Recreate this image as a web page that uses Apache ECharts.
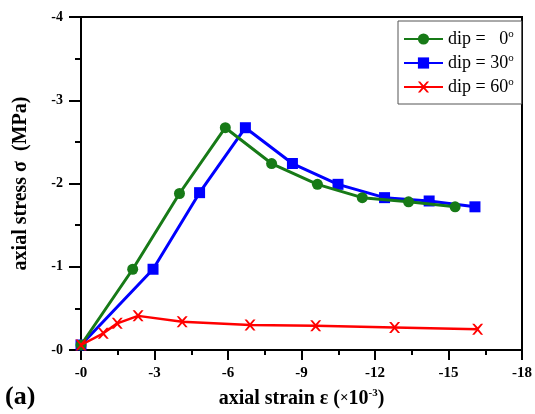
<!DOCTYPE html>
<html>
<head>
<meta charset="utf-8">
<script src="https://cdn.jsdelivr.net/npm/echarts@6/dist/echarts.min.js"></script>
<style>html,body{margin:0;padding:0;background:#fff}#c{width:535px;height:414px}</style>
</head>
<body>
<div id="c"></div>
<script>
// strain (x10^-3) and stress (MPa) values
var strain0  = [0, -2.11, -4.02, -5.89, -7.78, -9.65, -11.48, -13.37, -15.27];
var stress0  = [-0.06, -0.97, -1.88, -2.67, -2.24, -1.99, -1.83, -1.78, -1.72];
var strain30 = [0, -2.94, -4.84, -6.71, -8.63, -10.49, -12.39, -14.21, -16.08];
var stress30 = [-0.06, -0.97, -1.89, -2.67, -2.24, -1.99, -1.83, -1.79, -1.72];
var strain60 = [0, -0.91, -1.48, -2.33, -4.13, -6.9, -9.58, -12.8, -16.19];
var stress60 = [-0.06, -0.2, -0.32, -0.41, -0.34, -0.30, -0.29, -0.27, -0.25];
var seriesNames = ['dip =   0', 'dip = 30', 'dip = 60'];
var xTicks = [0, -3, -6, -9, -12, -15, -18];
var yTicks = [0, -1, -2, -3, -4];

function pairs(xs, ys){ return xs.map(function(x,i){return [x, ys[i]];}); }
var serif = '"Liberation Serif","Times New Roman",serif';
var chart = echarts.init(document.getElementById('c'));
function fmt(v){ return v === 0 ? '-0' : String(v); }
chart.setOption({
  animation: false,
  grid: {left: 81, top: 17, right: 11, bottom: 64, show: true, borderColor: '#000', borderWidth: 2, backgroundColor: 'transparent'},
  legend: {
    orient: 'vertical', left: 398, top: 21, width: 121,
    padding: [8, 8, 8, 5], itemGap: 5, itemWidth: 39, itemHeight: 14,
    borderColor: '#555', borderWidth: 1, backgroundColor: '#fff',
    textStyle: {fontFamily: serif, fontSize: 18, color: '#000',
      rich: {a: {fontFamily: serif, fontSize: 18, color: '#000'}, s: {fontFamily: serif, fontSize: 11, color: '#000', verticalAlign: 'top', padding: [0,0,9,0]}}},
    formatter: function(n){ return '{a|' + n + '}{s|o}'; },
    data: seriesNames
  },
  xAxis: {
    type: 'value', min: -18, max: 0, interval: 3, inverse: true,
    name: 'axial strain ε ({x|×}10{s|-3})', nameLocation: 'middle', nameGap: 38,
    nameTextStyle: {fontFamily: serif, fontSize: 20, fontWeight: 'bold', color: '#000',
      rich: {x: {fontFamily: serif, fontSize: 15, color: '#000'}, s: {fontFamily: serif, fontSize: 11, color: '#000', verticalAlign: 'top', padding: [0,0,10,0]}}},
    axisLine: {show: true, lineStyle: {color: '#000', width: 2}},
    axisTick: {show: true, length: 10, lineStyle: {color: '#000', width: 2}},
    minorTick: {show: true, splitNumber: 2, length: 5, lineStyle: {color: '#000', width: 2}},
    splitLine: {show: false},
    axisLabel: {fontFamily: serif, fontSize: 15, fontWeight: 'bold', color: '#000', margin: 16, formatter: fmt}
  },
  yAxis: {
    type: 'value', min: -4, max: 0, interval: 1, inverse: true,
    name: 'axial stress σ  (MPa)', nameLocation: 'middle', nameGap: 50,
    nameTextStyle: {fontFamily: serif, fontSize: 20, fontWeight: 'bold', color: '#000'},
    axisLine: {show: true, lineStyle: {color: '#000', width: 2}},
    axisTick: {show: true, length: 12, lineStyle: {color: '#000', width: 2}},
    minorTick: {show: true, splitNumber: 2, length: 6, lineStyle: {color: '#000', width: 2}},
    splitLine: {show: false},
    axisLabel: {fontFamily: serif, fontSize: 14, fontWeight: 'bold', color: '#000', margin: 18, formatter: fmt}
  },
  graphic: [{type: 'text', left: 5, top: 384, style: {text: '(a)', font: 'bold 26px ' + serif, fill: '#000'}}],
  series: [
    {name: seriesNames[0], type: 'line', data: pairs(strain0, stress0), symbol: 'circle', symbolSize: 11,
     smooth: false, lineStyle: {color: '#177a17', width: 3}, itemStyle: {color: '#177a17'}, z: 3},
    {name: seriesNames[1], type: 'line', data: pairs(strain30, stress30), symbol: 'rect', symbolSize: 11,
     smooth: false, lineStyle: {color: '#0000ff', width: 3}, itemStyle: {color: '#0000ff'}, z: 2},
    {name: seriesNames[2], type: 'line', data: pairs(strain60, stress60),
     symbol: 'path://M0,0 L2,0 L5,3 L8,0 L10,0 L6,4.5 L10,9 L8,9 L5,6 L2,9 L0,9 L4,4.5 Z', symbolSize: 11,
     lineStyle: {color: '#ff0000', width: 2.5}, itemStyle: {color: '#ff0000'}, z: 4}
  ]
});
</script>
</body>
</html>
